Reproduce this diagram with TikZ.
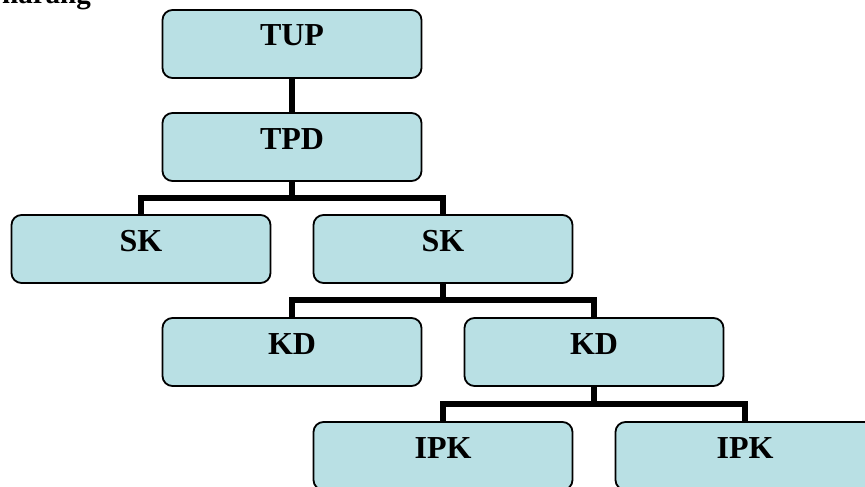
\documentclass[tikz,border=0pt]{standalone}
\usepackage{fontspec}
\setmainfont{Liberation Serif}
\definecolor{boxfill}{RGB}{185,224,228}
\tikzset{
  x=1pt, y=1pt,
  orgbox/.style={draw=black, line width=1.8pt, fill=boxfill, rounded corners=10pt,
    minimum width=259pt, minimum height=68pt, inner sep=0pt,
    text height=21pt, text depth=17pt,
    font=\fontsize{32}{38}\selectfont\bfseries},
  conn/.style={draw=black, line width=5.5pt}
}
\begin{document}
\begin{tikzpicture}
\useasboundingbox (0,0) rectangle (865,-487);
\clip (0,0) rectangle (865,-487);
\fill[white] (0,0) rectangle (865,-487);

% heading above the chart, running off the top edge
\node[anchor=base east, inner sep=0pt, font=\fontsize{29}{34}\selectfont\bfseries] (title) at (91,-4) {narang};

% chart boxes
\node[orgbox] (tup)  at (292,-44)  {TUP};
\node[orgbox] (tpd)  at (292,-147) {TPD};
\node[orgbox] (sk1)  at (141,-249) {SK};
\node[orgbox] (sk2)  at (443,-249) {SK};
\node[orgbox] (kd1)  at (292,-352) {KD};
\node[orgbox] (kd2)  at (594,-352) {KD};
\node[orgbox] (ipk1) at (443,-456) {IPK};
\node[orgbox] (ipk2) at (745,-456) {IPK};

% elbow connectors from each parent to its children
\draw[conn] (tup.south) -- (tpd.north);
\draw[conn] (tpd.south) -- ++(0,-16) -| (sk1.north);
\draw[conn] (tpd.south) -- ++(0,-16) -| (sk2.north);
\draw[conn] (sk2.south) -- ++(0,-16) -| (kd1.north);
\draw[conn] (sk2.south) -- ++(0,-16) -| (kd2.north);
\draw[conn] (kd2.south) -- ++(0,-17) -| (ipk1.north);
\draw[conn] (kd2.south) -- ++(0,-17) -| (ipk2.north);
\end{tikzpicture}
\end{document}
